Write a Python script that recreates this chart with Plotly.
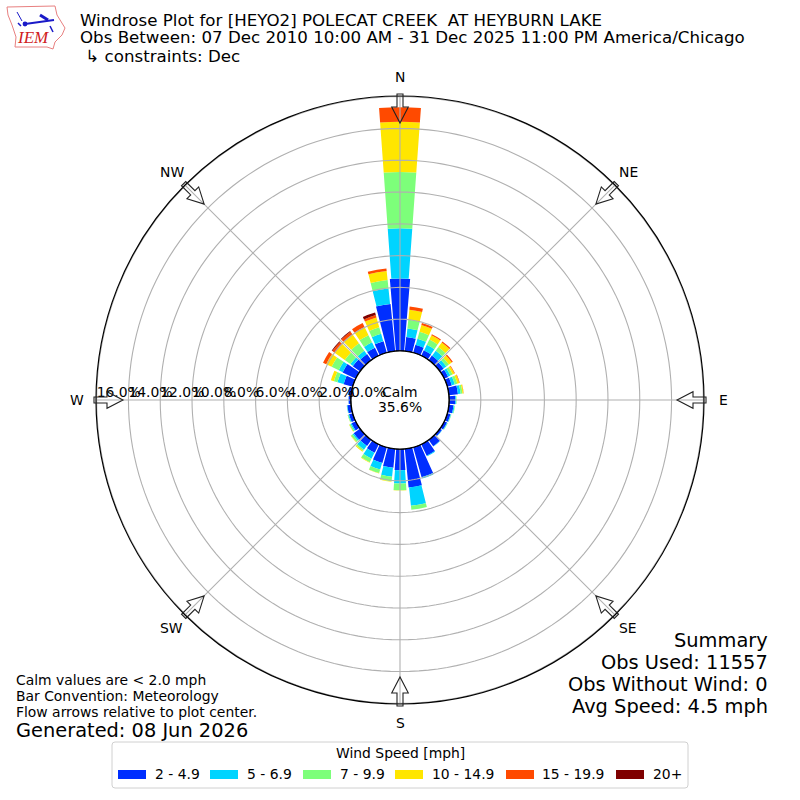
import numpy as np
import plotly.graph_objects as go

directions = list(range(0, 360, 10))
speed_labels = ["2 - 4.9", "5 - 6.9", "7 - 9.9", "10 - 14.9", "15 - 19.9", "20+"]
speed_colors = ["#002eff", "#00d4ff", "#7dff7a", "#ffe600", "#ff4a00", "#7f0000"]

# percent of obs per direction, one list per speed bin
speed_2_5 = [4.56, 0.90, 0.52, 0.38, 0.36, 0.30, 0.28, 0.30, 0.58, 0.40, 0.30, 0.22,
             0.20, 0.16, 0.50, 0.80, 1.96, 2.45, 1.33, 1.20, 1.03, 0.60, 0.48, 0.50,
             0.30, 0.25, 0.25, 0.15, 0.20, 0.60, 0.92, 0.57, 0.48, 0.57, 0.76, 2.99]
speed_5_7 = [3.16, 0.54, 0.41, 0.40, 0.39, 0.22, 0.16, 0.20, 0.17, 0.05, 0.06, 0.04,
             0.04, 0.02, 0.03, 0.05, 0.10, 1.16, 0.84, 0.57, 0.44, 0.42, 0.30, 0.10,
             0.08, 0.06, 0.03, 0.01, 0.02, 0.41, 0.28, 0.20, 0.27, 0.38, 0.49, 0.98]
speed_7_10 = [3.54, 0.56, 0.45, 0.36, 0.28, 0.20, 0.16, 0.17, 0.12, 0.03, 0.03, 0.02,
              0.02, 0.00, 0.00, 0.00, 0.00, 0.25, 0.42, 0.28, 0.23, 0.25, 0.10, 0.12,
              0.08, 0.03, 0.01, 0.00, 0.00, 0.23, 0.50, 0.44, 0.57, 0.50, 0.43, 0.53]
speed_10_15 = [3.16, 0.63, 0.44, 0.30, 0.36, 0.22, 0.12, 0.13, 0.07, 0.00, 0.00, 0.00,
               0.00, 0.00, 0.00, 0.00, 0.00, 0.00, 0.02, 0.04, 0.02, 0.03, 0.06, 0.03,
               0.02, 0.01, 0.00, 0.00, 0.00, 0.20, 0.38, 0.76, 0.70, 0.57, 0.64, 0.57]
speed_15_20 = [0.92, 0.20, 0.13, 0.07, 0.08, 0.08, 0.04, 0.03, 0.01, 0.00, 0.00, 0.00,
               0.00, 0.00, 0.00, 0.00, 0.00, 0.00, 0.00, 0.00, 0.00, 0.00, 0.00, 0.00,
               0.00, 0.00, 0.00, 0.00, 0.00, 0.00, 0.22, 0.20, 0.20, 0.28, 0.15, 0.17]
speed_20_up = [0.00, 0.00, 0.00, 0.00, 0.00, 0.00, 0.00, 0.00, 0.00, 0.00, 0.00, 0.00,
               0.00, 0.00, 0.00, 0.00, 0.00, 0.00, 0.00, 0.00, 0.00, 0.00, 0.00, 0.00,
               0.00, 0.00, 0.00, 0.00, 0.00, 0.00, 0.00, 0.05, 0.05, 0.00, 0.17, 0.00]
speed_bins = [speed_2_5, speed_5_7, speed_7_10, speed_10_15, speed_15_20, speed_20_up]

rings = [2, 4, 6, 8, 10, 12, 14, 16]
ring_labels = ["0.0%", "2.0%", "4.0%", "6.0%", "8.0%", "10.0%", "12.0%", "14.0%", "16.0%"]
compass_angles = [0, 45, 90, 135, 180, 225, 270, 315]
compass_labels = ["N", "NE", "E", "SE", "S", "SW", "W", "NW"]

FONT = "DejaVu Sans"
CX, CY, R_OUT, R_HOLE = 400, 400, 304, 49
R_MAX = 16.04
PAD = 2  # annotations sit about this far inside their anchor


def px(x, y):
    return x / 800, 1 - y / 800


def path(points, close=True):
    pts = [px(*p) for p in points]
    d = "M" + "L".join(f"{a:.5f},{b:.5f}" for a, b in pts)
    return d + ("Z" if close else "")


def label(text, x, y, size, anchor="left", color="black", family=FONT):
    x = x - PAD if anchor == "left" else x + PAD if anchor == "right" else x
    px_x, px_y = px(x, y)
    return dict(text=text, x=px_x, y=px_y, xref="paper", yref="paper", showarrow=False,
                xanchor=anchor, yanchor="middle", align=anchor,
                font=dict(family=family, size=size, color=color))


def rounded_box(left, top, right, bottom, c=3):
    ax, ay = px(left, top)
    bx, by = px(right, bottom)
    cx, cy = c / 800, c / 800
    return (f"M{ax + cx},{ay}L{bx - cx},{ay}Q{bx},{ay} {bx},{ay - cy}"
            f"L{bx},{by + cy}Q{bx},{by} {bx - cx},{by}"
            f"L{ax + cx},{by}Q{ax},{by} {ax},{by + cy}"
            f"L{ax},{ay - cy}Q{ax},{ay} {ax + cx},{ay}Z")


fig = go.Figure()

for i, (name, values, color) in enumerate(zip(speed_labels, speed_bins, speed_colors)):
    # the first bin reads a little wider near the hole than the rest
    widths = [9.6] + [8.8] * 35 if i == 0 else 8.2
    fig.add_trace(go.Barpolar(
        r=values, theta=directions, width=widths, name=name,
        marker=dict(color=color, line=dict(width=0)),
    ))

# grid sits on top of the bars in the original
circle = np.arange(0, 361, 2)
for ring in rings:
    fig.add_trace(go.Scatterpolar(
        r=[ring] * len(circle), theta=circle, mode="lines",
        line=dict(color="#b0b0b0", width=1.1), hoverinfo="skip",
    ))
for angle in compass_angles:
    fig.add_trace(go.Scatterpolar(
        r=[0, R_MAX], theta=[angle, angle], mode="lines",
        line=dict(color="#b0b0b0", width=1.1), hoverinfo="skip",
    ))
fig.add_trace(go.Scatterpolar(
    r=[0] * len(circle), theta=circle, mode="lines",
    line=dict(color="black", width=1.6), hoverinfo="skip",
))
fig.add_trace(go.Scatterpolar(
    r=[0] + rings, theta=[270] * 9, mode="text", text=ring_labels,
    textposition="top right", cliponaxis=False,
    textfont=dict(family=FONT, size=13.9, color="black"), hoverinfo="skip",
))

# flow arrows and compass labels
shapes = []
annotations = []
for angle, name in zip(compass_angles, compass_labels):
    a = np.radians(angle)
    ux, uy = np.sin(a), -np.cos(a)
    vx, vy = np.cos(a), np.sin(a)
    outline = [(306, -3), (293, -3), (293, -8.3), (277, 0), (293, 8.3), (293, 3), (306, 3)]
    pts = [(CX + r * ux + w * vx, CY + r * uy + w * vy) for r, w in outline]
    shapes.append(dict(type="path", path=path(pts), xref="paper", yref="paper",
                       line=dict(color="#222222", width=1.1), fillcolor="rgba(255,255,255,0)"))
    annotations.append(label(name, CX + 323 * ux, CY + 323 * uy, 13.9, anchor="center"))

# logo
iowa = [(7, 7), (55, 6), (57, 15), (65, 28), (62, 35), (55, 42), (53, 49), (47, 47),
        (15, 47), (16, 37), (12, 25), (8, 15)]
shapes.append(dict(type="path", path=path(iowa), xref="paper", yref="paper",
                   line=dict(color="#e88080", width=1), fillcolor="white"))
for seg, w in [([(25, 24), (54, 20)], 2), ([(40, 15), (48, 20)], 3), ([(17, 12), (22, 21)], 1),
               ([(50, 26), (53, 32)], 1.5), ([(18, 23), (21, 26)], 1.5)]:
    shapes.append(dict(type="path", path=path(seg, close=False), xref="paper", yref="paper",
                       line=dict(color="#1a1ac8", width=w)))
dot_x, dot_y = px(25, 24)
shapes.append(dict(type="circle", xref="paper", yref="paper", fillcolor="#1a1ac8",
                   line=dict(width=0), x0=dot_x - 0.003, x1=dot_x + 0.003,
                   y0=dot_y - 0.003, y1=dot_y + 0.003))

# legend box
shapes.append(dict(type="path", path=rounded_box(112, 742, 688, 788), xref="paper", yref="paper",
                   line=dict(color="#d0d0d0", width=1), fillcolor="white"))
patch_x = [118, 210, 303, 395, 506, 616]
text_x = [155, 247, 340, 432, 542, 653]
annotations.append(label("Wind Speed [mph]", 400, 753, 13.9, anchor="center"))
for name, color, xp, xt in zip(speed_labels, speed_colors, patch_x, text_x):
    a0, b0 = px(xp, 770)
    a1, b1 = px(xp + 28, 779)
    shapes.append(dict(type="rect", xref="paper", yref="paper", x0=a0, y0=b0, x1=a1, y1=b1,
                       line=dict(width=0), fillcolor=color))
    annotations.append(label(name, xt, 774, 13.9))

annotations += [
    label("<i>IEM</i>", 17, 38, 17, color="#d02020", family="Liberation Serif"),
    label("Windrose Plot for [HEYO2] POLECAT CREEK\u00a0 AT HEYBURN LAKE", 80, 21, 16.67),
    label("Obs Between: 07 Dec 2010 10:00 AM - 31 Dec 2025 11:00 PM America/Chicago", 80, 38, 16.67),
    label("\u00a0\u21b3 constraints: Dec", 80, 56, 16.67),
    label("Calm", 400, 392, 13.9, anchor="center"),
    label("35.6%", 400, 407, 13.9, anchor="center"),
    label("Summary", 768, 640, 19.4, anchor="right"),
    label("Obs Used: 11557", 768, 662, 19.4, anchor="right"),
    label("Obs Without Wind: 0", 768, 684, 19.4, anchor="right"),
    label("Avg Speed: 4.5 mph", 768, 706, 19.4, anchor="right"),
    label("Calm values are &lt; 2.0 mph", 16, 680, 13.9),
    label("Bar Convention: Meteorology", 16, 696, 13.9),
    label("Flow arrows relative to plot center.", 16, 712, 13.9),
    label("Generated: 08 Jun 2026", 16, 730, 19.4),
]

fig.update_layout(
    width=800, height=800,
    margin=dict(l=0, r=0, t=0, b=0),
    paper_bgcolor="white",
    showlegend=False,
    shapes=shapes,
    annotations=annotations,
    polar=dict(
        domain=dict(x=[(CX - R_OUT) / 800, (CX + R_OUT) / 800],
                    y=[(CY - R_OUT) / 800, (CY + R_OUT) / 800]),
        hole=R_HOLE / R_OUT,
        bgcolor="white",
        radialaxis=dict(visible=False, range=[0, R_MAX]),
        angularaxis=dict(
            direction="clockwise", rotation=90,
            tickmode="array", tickvals=compass_angles,
            showticklabels=False, showgrid=False, ticks="",
            linecolor="black", linewidth=1.2,
        ),
    ),
)

# page body has a default margin that would push the chart off by 8px
fig.write_html("out.html", config=dict(displayModeBar=False),
               post_script="document.body.style.margin='0';")
